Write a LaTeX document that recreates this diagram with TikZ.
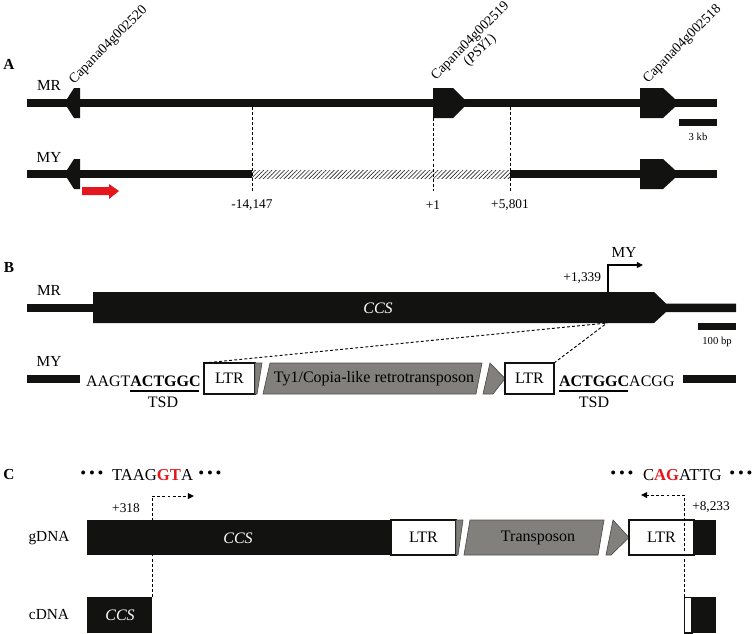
\documentclass[tikz,border=0pt]{standalone}
\usepackage{fontspec}
\setmainfont{Liberation Serif}
\usetikzlibrary{arrows.meta,patterns.meta}
\definecolor{dk}{RGB}{18,18,16}
\definecolor{gr}{RGB}{130,128,125}
\definecolor{grd}{RGB}{78,78,76}
\definecolor{rd}{RGB}{228,22,30}
\tikzset{
  fs/.style={font=\fontsize{#1}{#1}\selectfont},
  lab/.style={fs=11.5},
  num/.style={fs=10},
  gname/.style={fs=10.4, rotate=45, anchor=base west},
  small/.style={fs=8},
  panel/.style={font=\fontsize{11.5}{12}\selectfont\bfseries},
  blk/.style={fill=dk},
  ltrbox/.style={draw=dk, line width=0.8pt, fill=white, minimum height=31*0.75pt, fs=12},
  grbox/.style={fill=gr, draw=grd, line width=0.5pt},
  dsh/.style={dash pattern=on 2.2pt off 1.6pt, line width=0.7pt},
  tip/.style={-{Triangle[length=4.6pt,width=4.4pt]}},
}
\begin{document}
\begin{tikzpicture}[x=0.75pt,y=-0.75pt, every node/.style={inner sep=0pt,outer sep=0pt}]
\useasboundingbox (0,0) rectangle (752,633);

% ================= Panel A =================
\node[panel] (pA) at (9,64) {A};
\node[lab] (mrA) at (49,85) {MR};
\node[lab] (myA) at (49,157) {MY};
% MR line
\fill[blk] (27,99) rectangle (717,107);
% MY line
\fill[blk] (27,170) rectangle (252,178);
\fill[blk] (510,170) rectangle (717,178);
\fill[pattern={Lines[angle=45,distance=2.2pt,line width=0.5pt]}, pattern color=dk!90] (252,170) rectangle (510,178);
% genes MR
\fill[blk,shift={(80,103)}] (0,-15) -- (-6,-15) -- (-13,-4) -- (-13,4) -- (-6,15) -- (0,15) -- cycle;
\fill[blk,shift={(433,103)}] (0,-15) -- (20,-15) -- (31,-4) -- (31,4) -- (20,15) -- (0,15) -- cycle;
\fill[blk,shift={(640,103)}] (0,-15) -- (23,-15) -- (35,-4) -- (35,4) -- (23,15) -- (0,15) -- cycle;
% genes MY
\fill[blk,shift={(80,174)}] (0,-15) -- (-6,-15) -- (-13,-4) -- (-13,4) -- (-6,15) -- (0,15) -- cycle;
\fill[blk,shift={(640,174)}] (0,-15) -- (23,-15) -- (35,-4) -- (35,4) -- (23,15) -- (0,15) -- cycle;
% gene names
\node[gname] (g520) at (74,84) {Capana04g002520};
\node[gname] (g519) at (436,80) {Capana04g002519};
\node[fs=10.4, rotate=45, anchor=north, yshift=-1pt] (psy) at (g519.south) {(\textit{PSY1})};
\node[gname] (g518) at (648,83) {Capana04g002518};
% scale bar
\fill[blk] (679,119) rectangle (717,126);
\node[small] (kb) at (698,137) {3 kb};
% red arrow
\fill[rd] (82,187) -- (109,187) -- (109,184) -- (119,191) -- (109,199) -- (109,195) -- (82,195) -- cycle;
% dashed breakpoints
\coordinate (d1t) at (252,107); \coordinate (d1b) at (252,191);
\coordinate (d2t) at (433,118); \coordinate (d2b) at (433,191);
\coordinate (d3t) at (510,107); \coordinate (d3b) at (510,191);
\draw[dsh] (d1t) -- (d1b);
\draw[dsh] (d2t) -- (d2b);
\draw[dsh] (d3t) -- (d3b);
\node[num] (n1) at (252,205) {-14,147};
\node[num] (n2) at (433,205) {+1};
\node[num] (n3) at (510,205) {+5,801};

% ================= Panel B =================
\node[panel] (pB) at (9,267) {B};
\node[lab] (mrB) at (49,290) {MR};
\fill[blk] (27,304) rectangle (93,312);
\fill[blk] (93,292) -- (654,292) -- (666,303.5) -- (736,303.5) -- (736,312) -- (666,312) -- (654,323) -- (93,323) -- cycle;
\node[fs=12, text=white] (ccsB) at (378,308) {\textit{CCS}};
\coordinate (tssB) at (608,292);
\coordinate (tssC) at (608,265);
\coordinate (tssE) at (643,265);
\draw[line width=0.8pt, tip] (tssB) -- (tssC) -- (tssE);
\node[lab] (myTop) at (624,252) {MY};
\node[num, anchor=east] (n1339) at (601,278) {+1,339};
\fill[blk] (698,323) rectangle (736,330);
\node[small] (bp) at (717,342) {100 bp};

\node[lab] (myB) at (49,361) {MY};
\fill[blk] (27,375) rectangle (80,383);
\fill[blk] (683,375) rectangle (736,383);
\node[fs=12, anchor=base west] (seqL) at (86,386) {AAGT\textbf{ACTGGC}};
\draw[line width=0.8pt] (130,391) -- (199,391);
\node[fs=12] (tsdL) at (163,402) {TSD};
\node[ltrbox, minimum width=51*0.75pt] (ltr1) at (229.5,378.5) {LTR};
\filldraw[grbox] (255,363) -- (262,363) -- (257,394) -- (255,394) -- cycle;
\filldraw[grbox] (270,363) -- (482,363) -- (476,394) -- (263,394) -- cycle;
\filldraw[grbox] (490,363) -- (505,378.5) -- (493,394) -- (483,394) -- cycle;
\node[fs=12] (ty1) at (374,379) {Ty1/Copia-like retrotransposon};
\node[ltrbox, minimum width=49*0.75pt] (ltr2) at (529.5,378.5) {LTR};
\node[fs=12, anchor=base west] (seqR) at (559,386) {\textbf{ACTGGC}ACGG};
\draw[line width=0.8pt] (559,391) -- (628,391);
\node[fs=12] (tsdR) at (594,402) {TSD};
\coordinate (ins) at (607,323);
\draw[dsh] (ltr1.north west) -- (ins);
\draw[dsh] (ltr2.north east) -- (ins);

% ================= Panel C =================
\node[panel] (pC) at (9,474) {C};
\node[fs=12.5] (dl1) at (92,475) {•\,•\,•};
\node[fs=12.5, anchor=base west] (seqC1) at (112,480) {TAAG\textcolor{rd}{\textbf{GT}}A};
\node[fs=12.5] (dl2) at (210,475) {•\,•\,•};
\node[fs=12.5] (dr1) at (622,475) {•\,•\,•};
\node[fs=12.5, anchor=base west] (seqC2) at (643,480) {C\textcolor{rd}{\textbf{AG}}ATTG};
\node[fs=12.5] (dr2) at (741,475) {•\,•\,•};

\node[lab] (gdna) at (49,538) {gDNA};
\node[lab] (cdna) at (49,614) {cDNA};

% splice arrows (behind boxes)
\coordinate (s1a) at (152,597); \coordinate (s1b) at (152,496); \coordinate (s1c) at (194,496);
\draw[dsh, tip] (s1a) -- (s1b) -- (s1c);
\coordinate (s2a) at (684,597); \coordinate (s2b) at (684,495); \coordinate (s2c) at (641,495);

\fill[blk] (87,520) rectangle (391,555);
\node[fs=12, text=white] (ccsC) at (238,538) {\textit{CCS}};
\node[ltrbox, minimum width=65*0.75pt, minimum height=35*0.75pt] (ltr3) at (423.5,537.5) {LTR};
\filldraw[grbox] (456,520) -- (463,520) -- (458,555) -- (456,555) -- cycle;
\filldraw[grbox] (470,520) -- (604,520) -- (598,555) -- (464,555) -- cycle;
\filldraw[grbox] (613,520) -- (629,537.5) -- (611,555) -- (606,555) -- cycle;
\node[fs=12] (tpn) at (538,538) {Transposon};
\node[ltrbox, minimum width=65*0.75pt, minimum height=35*0.75pt] (ltr4) at (661.5,537.5) {LTR};
\fill[blk] (694,520) rectangle (716,555);
\draw[dsh, tip] (s2a) -- (s2b) -- (s2c);
\node[num] (n318) at (126,508) {+318};
\node[num] (n8233) at (711,507) {+8,233};

% cDNA
\fill[blk] (87,597) rectangle (152,633);
\node[fs=12, text=white] (ccsD) at (120,615) {\textit{CCS}};
\draw[draw=dk, line width=0.8pt, fill=white] (684.4,597.4) rectangle (692,633);
\fill[blk] (692,597) rectangle (716,633);
\end{tikzpicture}
\end{document}
